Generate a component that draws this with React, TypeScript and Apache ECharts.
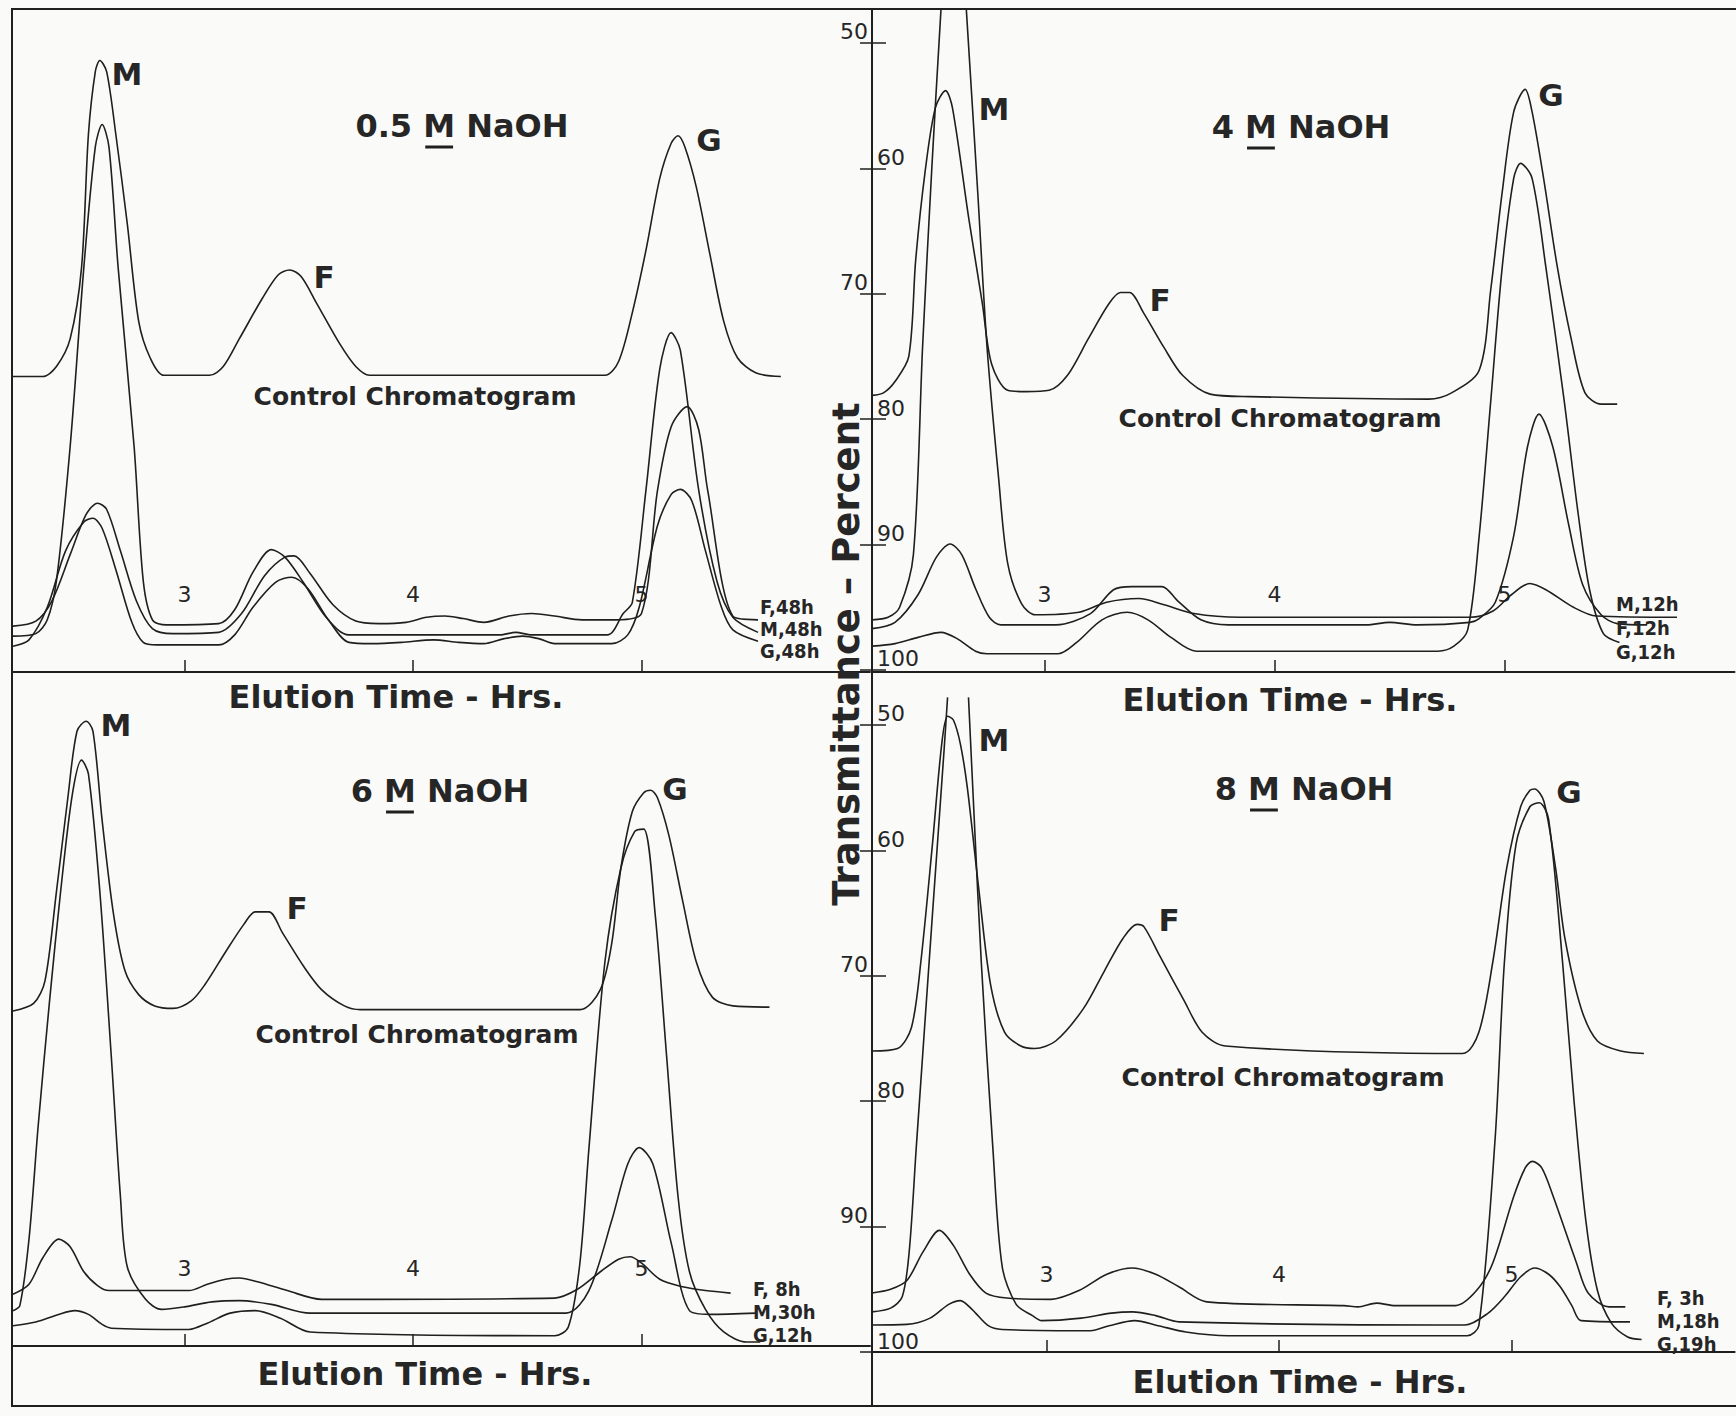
import React, { useEffect, useRef } from "react";
import * as echarts from "echarts";

const CANVAS_W = 1736;
const CANVAS_H = 1416;

// ---- tick values and labels ----
const xTickValues = [3, 4, 5];
const yTickValues = [50, 60, 70, 80, 90, 100];
const topOutsideLabels = [50, 70];
const topInsideLabels = [60, 80, 90, 100];
const bottomOutsideLabels = [70, 90];
const bottomInsideLabels = [50, 60, 80, 100];

const panelTitles = ["0.5 M NaOH", "4 M NaOH", "6 M NaOH", "8 M NaOH"];
const peakLetters = ["M", "F", "G"];
const controlLabel = "Control Chromatogram";
const xAxisTitle = "Elution Time - Hrs.";
const yAxisTitle = "Transmittance – Percent";
const curveLabels = [
  ["F,48h", "M,48h", "G,48h"],
  ["M,12h", "F,12h", "G,12h"],
  ["F, 8h", "M,30h", "G,12h"],
  ["F, 3h", "M,18h", "G,19h"],
];

// ---- data: [elution time (hrs), transmittance (%)] ----
// 0.5 M NaOH
const control05 = [[2.25,76.6],[2.38,76.6],[2.44,75.8],[2.50,73.6],[2.55,67.9],[2.58,57.3],[2.61,52.3],[2.63,51.4],[2.66,52.3],[2.70,57.3],[2.75,64.4],[2.80,72.2],[2.85,75.1],[2.91,76.5],[3.11,76.5],[3.17,75.8],[3.24,73.6],[3.34,70.4],[3.41,68.5],[3.46,68.1],[3.51,68.6],[3.58,70.8],[3.68,74.0],[3.75,75.8],[3.81,76.5],[4.84,76.5],[4.90,75.4],[4.96,71.5],[5.02,66.5],[5.08,60.8],[5.13,58.0],[5.16,57.4],[5.19,58.3],[5.24,61.5],[5.30,66.9],[5.36,72.2],[5.42,75.1],[5.50,76.3],[5.61,76.6]];
const f48h05 = [[2.25,96.5],[2.35,96.1],[2.42,94.5],[2.50,90.8],[2.57,87.6],[2.62,86.7],[2.66,87.2],[2.72,90.5],[2.79,94.5],[2.86,96.7],[2.95,97.1],[3.15,97.0],[3.25,95.5],[3.35,92.5],[3.44,91.0],[3.48,90.9],[3.55,92.3],[3.65,94.8],[3.75,96.1],[3.85,96.3],[3.97,96.2],[4.06,95.8],[4.14,95.7],[4.22,95.9],[4.31,96.2],[4.42,95.7],[4.52,95.5],[4.62,95.7],[4.74,96.0],[4.89,96.0],[5.00,95.5],[5.07,85.7],[5.13,80.6],[5.20,79.0],[5.25,80.8],[5.29,85.7],[5.40,95.7],[5.51,96.0]];
const m48h05 = [[2.25,97.3],[2.35,97.1],[2.40,96.0],[2.44,92.9],[2.50,82.2],[2.56,67.9],[2.61,58.3],[2.64,56.5],[2.67,58.3],[2.71,67.9],[2.78,82.2],[2.82,92.9],[2.86,96.0],[2.92,96.4],[3.15,96.3],[3.22,95.2],[3.30,92.2],[3.38,90.4],[3.44,91.0],[3.52,93.0],[3.62,95.8],[3.72,97.2],[4.38,97.2],[4.45,97.0],[4.52,97.2],[4.85,97.2],[4.92,95.5],[4.96,94.6],[5.02,85.6],[5.08,76.0],[5.13,73.1],[5.17,74.5],[5.25,85.6],[5.33,92.9],[5.40,95.8],[5.51,97.0]];
const g48h05 = [[2.25,98.1],[2.32,97.6],[2.40,95.0],[2.48,90.5],[2.56,88.2],[2.60,87.9],[2.64,88.7],[2.70,92.0],[2.77,96.2],[2.82,97.8],[2.88,98.0],[3.15,98.0],[3.22,97.2],[3.30,95.0],[3.40,93.0],[3.47,92.6],[3.54,93.5],[3.63,96.0],[3.72,97.8],[3.82,97.9],[3.95,97.8],[4.09,97.6],[4.20,97.8],[4.31,97.9],[4.40,97.5],[4.48,97.3],[4.55,97.5],[4.62,97.9],[4.87,97.9],[4.94,97.2],[4.99,95.0],[5.07,88.5],[5.13,86.0],[5.17,85.6],[5.22,86.5],[5.28,90.5],[5.35,95.0],[5.40,96.8],[5.51,97.7]];

// 4 M NaOH
const control4 = [[2.25,78.1],[2.30,77.9],[2.35,77.0],[2.41,75.0],[2.44,67.3],[2.48,60.4],[2.525,55.2],[2.57,53.8],[2.60,55.2],[2.67,63.9],[2.73,70.8],[2.77,75.6],[2.84,77.7],[2.92,77.8],[3.02,77.7],[3.10,76.5],[3.19,73.6],[3.28,70.8],[3.33,69.9],[3.37,69.9],[3.43,71.5],[3.52,74.3],[3.60,76.5],[3.72,78.0],[3.89,78.2],[4.67,78.4],[4.77,77.9],[4.89,76.1],[4.94,69.7],[4.99,61.9],[5.04,55.5],[5.09,53.7],[5.12,55.5],[5.17,60.8],[5.23,67.9],[5.29,73.6],[5.35,77.9],[5.42,78.8],[5.49,78.8]];
const m12h4 = [[2.25,96.0],[2.32,95.8],[2.37,95.0],[2.43,90.8],[2.47,74.2],[2.51,60.0],[2.55,47.3],[2.605,null],[2.66,47.3],[2.71,62.0],[2.75,74.2],[2.80,84.6],[2.84,91.5],[2.90,94.7],[2.96,95.6],[3.15,95.4],[3.27,94.6],[3.41,94.3],[3.52,94.8],[3.65,95.5],[3.85,95.8],[4.85,95.8],[4.95,95.3],[5.03,94.0],[5.11,93.1],[5.18,93.6],[5.30,95.0],[5.40,95.7],[5.75,95.8]];
const f12h4 = [[2.25,96.7],[2.35,96.2],[2.45,94.0],[2.53,91.0],[2.59,89.95],[2.64,90.8],[2.70,93.5],[2.76,95.8],[2.81,96.4],[3.05,96.4],[3.20,95.5],[3.30,93.6],[3.38,93.35],[3.51,93.35],[3.58,94.5],[3.68,96.0],[3.80,96.4],[4.40,96.4],[4.50,96.2],[4.62,96.4],[4.85,96.2],[4.89,95.9],[4.96,94.6],[5.04,89.3],[5.10,82.2],[5.15,79.6],[5.21,82.2],[5.28,88.5],[5.34,93.2],[5.42,95.6],[5.49,96.3],[5.62,96.4]];
const g12h4 = [[2.25,98.1],[2.35,97.9],[2.45,97.4],[2.55,97.0],[2.62,97.5],[2.70,98.5],[2.75,98.7],[3.06,98.7],[3.14,97.8],[3.25,96.0],[3.36,95.4],[3.45,96.0],[3.55,97.4],[3.66,98.5],[4.71,98.5],[4.78,98.1],[4.84,96.8],[4.89,89.3],[4.94,78.6],[4.99,67.9],[5.04,60.8],[5.07,59.6],[5.12,60.8],[5.18,67.9],[5.26,78.6],[5.32,87.5],[5.37,93.6],[5.43,97.1],[5.50,97.8]];

// 6 M NaOH
const control6 = [[2.25,72.8],[2.34,72.2],[2.39,70.4],[2.44,63.3],[2.49,55.8],[2.53,50.5],[2.57,49.7],[2.60,50.5],[2.64,57.6],[2.69,65.1],[2.74,69.6],[2.80,71.5],[2.87,72.4],[2.95,72.6],[3.03,72.0],[3.09,70.7],[3.18,68.1],[3.26,65.9],[3.31,64.9],[3.37,64.9],[3.43,66.6],[3.52,69.2],[3.60,71.1],[3.70,72.4],[3.77,72.7],[4.73,72.7],[4.82,71.1],[4.87,67.4],[4.91,61.4],[4.96,56.9],[5.01,55.4],[5.04,55.2],[5.07,55.8],[5.12,58.8],[5.18,64.0],[5.24,68.9],[5.31,71.7],[5.40,72.4],[5.56,72.5]];
const f8h6 = [[2.25,95.4],[2.32,94.6],[2.38,92.5],[2.45,91.0],[2.50,91.6],[2.56,93.6],[2.62,94.7],[2.67,95.1],[3.02,95.1],[3.10,94.6],[3.18,94.2],[3.24,94.1],[3.32,94.4],[3.45,95.1],[3.60,95.8],[4.62,95.7],[4.72,95.0],[4.82,93.6],[4.90,92.6],[4.95,92.4],[5.00,92.9],[5.08,94.2],[5.18,94.8],[5.28,95.1],[5.39,95.3]];
const m30h6 = [[2.25,96.7],[2.28,96.3],[2.32,91.0],[2.36,82.0],[2.41,72.0],[2.46,63.0],[2.51,55.5],[2.55,52.8],[2.58,53.9],[2.63,63.3],[2.68,76.4],[2.72,87.6],[2.75,93.2],[2.83,95.8],[2.90,96.6],[3.00,96.4],[3.12,96.0],[3.24,95.9],[3.38,96.2],[3.55,96.9],[4.67,96.9],[4.77,95.1],[4.87,89.5],[4.94,85.0],[4.99,83.7],[5.05,85.0],[5.13,91.3],[5.21,96.7],[5.30,97.0],[5.50,96.9]];
const g12h6 = [[2.25,97.9],[2.35,97.6],[2.45,97.0],[2.52,96.7],[2.58,97.0],[2.64,97.8],[2.68,98.1],[3.02,98.2],[3.10,97.7],[3.20,96.9],[3.31,96.7],[3.42,97.3],[3.55,98.4],[4.62,98.7],[4.68,98.0],[4.73,93.0],[4.77,83.8],[4.84,68.9],[4.91,61.4],[4.97,58.5],[5.01,58.3],[5.06,65.1],[5.11,76.4],[5.16,87.6],[5.21,93.6],[5.28,96.6],[5.36,98.4],[5.46,99.2],[5.52,99.2]];

// 8 M NaOH
const control8 = [[2.25,76.0],[2.36,75.8],[2.42,74.1],[2.46,68.9],[2.51,59.5],[2.55,51.5],[2.575,49.3],[2.60,49.6],[2.63,51.5],[2.66,55.0],[2.71,63.2],[2.76,70.7],[2.82,74.5],[2.89,75.6],[2.95,75.8],[3.04,75.2],[3.16,72.6],[3.25,69.6],[3.33,67.0],[3.39,65.9],[3.42,66.1],[3.49,68.5],[3.59,71.9],[3.67,74.5],[3.77,75.6],[4.79,76.2],[4.86,74.5],[4.92,68.9],[4.98,61.4],[5.04,56.5],[5.08,55.2],[5.10,55.1],[5.14,56.1],[5.19,61.4],[5.23,67.0],[5.30,72.6],[5.37,75.2],[5.47,76.0],[5.57,76.2]];
const f3h8 = [[2.25,95.3],[2.33,95.0],[2.40,94.3],[2.47,92.0],[2.54,90.3],[2.60,91.5],[2.67,93.8],[2.74,95.3],[2.83,95.7],[3.02,95.8],[3.14,95.1],[3.26,93.8],[3.37,93.3],[3.47,93.8],[3.57,94.8],[3.69,96.0],[4.28,96.3],[4.34,96.4],[4.42,96.1],[4.50,96.3],[4.76,96.3],[4.85,95.1],[4.92,92.9],[5.01,87.6],[5.06,85.3],[5.09,84.8],[5.13,85.3],[5.18,87.6],[5.28,92.9],[5.33,95.3],[5.42,96.4],[5.49,96.4]];
const m18h8 = [[2.25,96.8],[2.33,96.5],[2.38,95.6],[2.41,92.0],[2.44,83.8],[2.51,65.1],[2.56,52.0],[2.575,47.8],[2.62,null],[2.665,47.8],[2.69,57.6],[2.72,68.9],[2.77,83.8],[2.81,93.2],[2.87,96.2],[2.94,97.1],[2.98,97.5],[3.15,97.3],[3.28,96.9],[3.37,96.8],[3.47,97.1],[3.57,97.6],[4.80,97.85],[4.90,96.9],[4.97,95.6],[5.04,94.0],[5.10,93.3],[5.16,93.8],[5.21,94.8],[5.26,96.3],[5.30,97.5],[5.51,97.6]];
const g19h8 = [[2.25,97.85],[2.40,97.8],[2.50,97.3],[2.58,96.2],[2.63,95.9],[2.68,96.6],[2.75,97.9],[2.81,98.2],[3.19,98.3],[3.27,97.9],[3.38,97.5],[3.48,97.9],[3.60,98.4],[3.78,98.7],[4.81,98.7],[4.86,97.9],[4.93,83.0],[4.97,68.9],[5.02,59.5],[5.08,56.5],[5.12,56.2],[5.16,57.5],[5.22,68.9],[5.27,80.1],[5.32,89.5],[5.37,95.1],[5.43,97.7],[5.50,98.8],[5.56,99.0]];

const panelCurves = [
  [control05, f48h05, m48h05, g48h05],
  [control4, m12h4, f12h4, g12h4],
  [control6, f8h6, m30h6, g12h6],
  [control8, f3h8, m18h8, g19h8],
];

// ---- layout (pixels) ----
const FONT = '"DejaVu Sans", "Liberation Sans", sans-serif';
const FONT_C = '"DejaVu Sans Condensed", "DejaVu Sans", sans-serif';
const INK = "#1f1f1f";
const TEXT = "#262626";

const grids = [
  { left: 13, top: 9.1, width: 857, height: 662.9 },
  { left: 872, top: 9.1, width: 862.5, height: 662.9 },
  { left: 13, top: 697.4, width: 857, height: 648.6 },
  { left: 872, top: 697.4, width: 862.6, height: 654.6 },
];
const xRanges = [[2.25, 6.0], [2.25, 6.0], [2.25, 6.0], [2.25, 5.96]];
const yRanges = [[47.3, 100.16], [47.3, 100.16], [47.8, 99.52], [47.8, 100.0]];

const titleCenters = [[462, 126], [1301, 127], [440, 791], [1304, 789]];
const peakPos = [
  [[127, 74], [324, 277], [709, 140]],
  [[994, 109], [1160, 300], [1551, 95]],
  [[116, 725], [297, 908], [675, 789]],
  [[994, 740], [1169, 920], [1569, 792]],
];
const controlPos = [[415, 396], [1280, 418], [417, 1034], [1283, 1077]];
const xTitlePos = [[396, 697], [1290, 700], [425, 1374], [1300, 1382]];
const curveLabelPos = [
  { x: 760, ys: [607, 629, 651] },
  { x: 1616, ys: [604, 628, 652] },
  { x: 753, ys: [1289, 1312, 1335] },
  { x: 1657, ys: [1298, 1321, 1344] },
];
const yTitlePos = [846, 654];

function measure(text: string, font: string): number {
  const c = document.createElement("canvas").getContext("2d");
  if (!c) return text.length * 18;
  c.font = font;
  return c.measureText(text).width;
}

function txt(x: number, y: number, s: string, size: number, opts: any = {}) {
  const align = opts.align || "center";
  return {
    type: "text",
    x,
    y,
    rotation: opts.rotation || 0,
    silent: true,
    z: 10,
    style: {
      text: s,
      fontSize: size,
      fontWeight: opts.weight || "bold",
      fontFamily: opts.family || FONT,
      fill: TEXT,
      align,
      textAlign: align,
      verticalAlign: "middle",
      textVerticalAlign: "middle",
    },
  };
}

function hline(x1: number, y1: number, x2: number, y2: number, w = 2) {
  return {
    type: "line",
    silent: true,
    z: 10,
    shape: { x1, y1, x2, y2 },
    style: { stroke: INK, lineWidth: w },
  };
}

function buildOption() {
  const xAxis = grids.map((_, i) => ({
    type: "value",
    gridIndex: i,
    min: xRanges[i][0],
    max: xRanges[i][1],
    axisLine: { show: true, onZero: false, lineStyle: { color: INK, width: 2 } },
    axisTick: { show: true, inside: true, length: 12, customValues: xTickValues, lineStyle: { color: INK, width: 1.5 } },
    axisLabel: { show: true, inside: true, margin: 67, customValues: xTickValues, fontSize: 22, fontFamily: FONT, color: TEXT },
    splitLine: { show: false },
  }));

  const hiddenY = (i: number) => ({
    type: "value", gridIndex: i, inverse: true, min: yRanges[i][0], max: yRanges[i][1], show: false,
  });
  const mainY = (i: number, labels: number[]) => ({
    type: "value", gridIndex: i, position: "left", offset: 0, inverse: true, min: yRanges[i][0], max: yRanges[i][1],
    axisLine: { show: false, onZero: false },
    axisTick: { show: true, inside: true, length: 14, customValues: yTickValues, lineStyle: { color: INK, width: 1.5 } },
    axisLabel: { show: true, inside: true, margin: 5, verticalAlign: "bottom", customValues: labels, fontSize: 22, fontFamily: FONT, color: TEXT },
    splitLine: { show: false },
  });
  const auxY = (i: number, labels: number[]) => ({
    type: "value", gridIndex: i, position: "left", offset: 0, inverse: true, min: yRanges[i][0], max: yRanges[i][1],
    axisLine: { show: false, onZero: false },
    axisTick: { show: true, inside: false, length: 12, customValues: yTickValues, lineStyle: { color: INK, width: 1.5 } },
    axisLabel: { show: true, inside: false, margin: 4, verticalAlign: "bottom", customValues: labels, fontSize: 22, fontFamily: FONT, color: TEXT },
    splitLine: { show: false },
  });
  const yAxis = [
    hiddenY(0),
    mainY(1, topInsideLabels),
    auxY(1, topOutsideLabels),
    hiddenY(2),
    mainY(3, bottomInsideLabels),
    auxY(3, bottomOutsideLabels),
  ];
  const yIndexForPanel = [0, 1, 3, 4];

  const series: any[] = [];
  panelCurves.forEach((curves, p) => {
    curves.forEach((data, k) => {
      series.push({
        type: "line",
        name: k === 0 ? `${panelTitles[p]} control` : `${panelTitles[p]} ${curveLabels[p][k - 1]}`,
        xAxisIndex: p,
        yAxisIndex: yIndexForPanel[p],
        data,
        showSymbol: false,
        symbol: "none",
        smooth: 0.3,
        connectNulls: false,
        clip: true,
        silent: true,
        lineStyle: { color: INK, width: 1.6 },
      });
    });
  });

  const graphic: any[] = [];
  // frame
  graphic.push(hline(12, 9, CANVAS_W, 9));
  graphic.push(hline(12, 8, 12, 1407));
  graphic.push(hline(12, 1406, CANVAS_W, 1406));
  graphic.push(hline(872, 8, 872, 1407));

  const titleSize = 32;
  const titleFont = `bold ${titleSize}px ${FONT}`;
  panelTitles.forEach((t, p) => {
    const [cx, cy] = titleCenters[p];
    graphic.push(txt(cx, cy, t, titleSize));
    const total = measure(t, titleFont);
    const idx = t.indexOf("M");
    const mx = cx - total / 2 + measure(t.slice(0, idx), titleFont);
    const mw = measure("M", titleFont);
    graphic.push(hline(mx + 2, cy + 21, mx + mw - 2, cy + 21, 3));
  });
  peakPos.forEach((arr, p) => {
    arr.forEach(([x, y], k) => graphic.push(txt(x, y, peakLetters[k], 31)));
  });
  controlPos.forEach(([x, y]) => graphic.push(txt(x, y, controlLabel, 25)));
  xTitlePos.forEach(([x, y]) => graphic.push(txt(x, y, xAxisTitle, 32)));
  curveLabelPos.forEach((pos, p) => {
    pos.ys.forEach((y, k) => graphic.push(txt(pos.x, y, curveLabels[p][k], 20, { align: "left", family: FONT_C })));
  });
  graphic.push(txt(yTitlePos[0], yTitlePos[1], yAxisTitle, 37, { rotation: Math.PI / 2 }));

  return {
    animation: false,
    backgroundColor: "#fafaf8",
    grid: grids.map((g) => ({ ...g, containLabel: false, outerBoundsMode: "none" })),
    xAxis,
    yAxis,
    series,
    graphic,
  };
}

export default function App() {
  const ref = useRef<HTMLDivElement>(null);
  useEffect(() => {
    if (!ref.current) return;
    const chart = echarts.init(ref.current, null, { renderer: "svg", width: CANVAS_W, height: CANVAS_H });
    chart.setOption(buildOption() as any);
    return () => chart.dispose();
  }, []);
  return (
    <div
      ref={ref}
      style={{ position: "absolute", left: 0, top: 0, width: CANVAS_W, height: CANVAS_H }}
    />
  );
}
